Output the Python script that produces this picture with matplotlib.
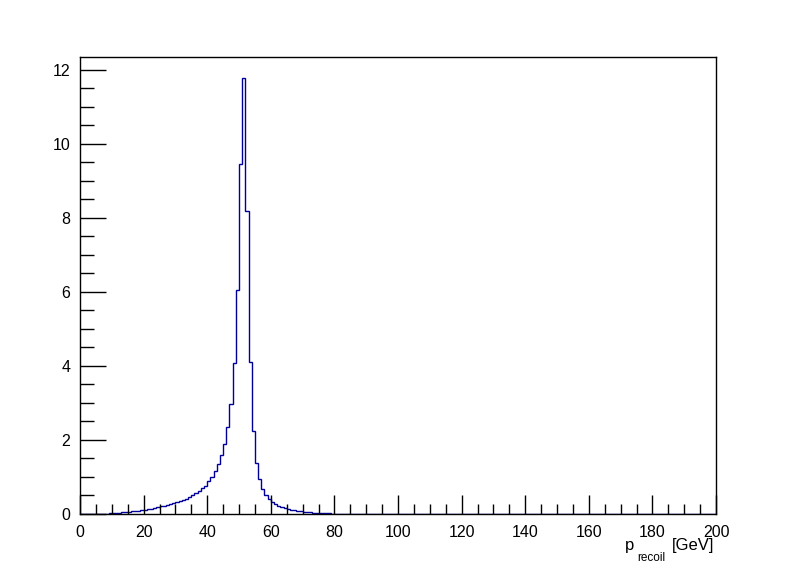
import numpy as np
import matplotlib
matplotlib.use('Agg')
import matplotlib.pyplot as plt
from matplotlib.ticker import MultipleLocator

plt.rcParams['font.family'] = ['Liberation Sans', 'DejaVu Sans']

# histogram: 200 bins of 1 GeV from 0 to 200, contents
edges = np.arange(0, 201, 1)
counts = np.zeros(200)
# bins 9..78 (lower edge), rest empty
tail = [0.018, 0.018, 0.018, 0.018,            # 9-12
        0.045, 0.045, 0.045,                   # 13-15
        0.072, 0.072, 0.072,                   # 16-18
        0.10, 0.10,                            # 19-20
        0.126, 0.126,                          # 21-22
        0.153, 0.18,                           # 23-24
        0.207, 0.207,                          # 25-26
        0.234, 0.26, 0.29, 0.315, 0.34, 0.37,  # 27-32
        0.40, 0.45, 0.50, 0.56, 0.61, 0.69,    # 33-38
        0.77, 0.88, 0.99, 1.15, 1.34, 1.59,    # 39-44
        1.88, 2.34, 2.96, 4.07, 6.05, 9.47,    # 45-50
        11.77, 8.18, 4.10, 2.23, 1.37, 0.94,   # 51-56
        0.67, 0.50, 0.40, 0.32, 0.26, 0.21,    # 57-62
        0.18, 0.15, 0.13, 0.10, 0.10,          # 63-67
        0.072, 0.072,                          # 68-69
        0.045, 0.045, 0.045,                   # 70-72
        0.018, 0.018, 0.018, 0.018, 0.018, 0.018]  # 73-78
counts[9:9 + len(tail)] = tail

fig = plt.figure(figsize=(7.96, 5.72), dpi=100)
ax = fig.add_axes([80/796, 58/572, 636/796, 457/572])

ax.stairs(counts, edges, color='#000099', lw=1.0)

ax.set_xlim(0, 200)
ax.set_ylim(0, 12.35)
ax.xaxis.set_major_locator(MultipleLocator(20))
ax.xaxis.set_minor_locator(MultipleLocator(5))
ax.yaxis.set_major_locator(MultipleLocator(2))
ax.yaxis.set_minor_locator(MultipleLocator(0.5))
ax.tick_params(axis='x', which='major', direction='in', length=14, width=1, labelsize=11.5, pad=8)
ax.tick_params(axis='x', which='minor', direction='in', length=7, width=1)
ax.tick_params(axis='y', which='major', direction='in', length=19, width=1, labelsize=11.5, pad=7)
ax.tick_params(axis='y', which='minor', direction='in', length=10, width=1)
for s in ax.spines.values():
    s.set_linewidth(1)

# axis title p_recoil [GeV], right aligned at the end of the axis
fig.text(714/796, 1 - 550/572, '[GeV]', ha='right', va='baseline', fontsize=12)
fig.text(665/796, 1 - 561/572, 'recoil', ha='right', va='baseline', fontsize=8.5)
fig.text(634/796, 1 - 550/572, 'p', ha='right', va='baseline', fontsize=12)

fig.savefig('out.png', dpi=100)
